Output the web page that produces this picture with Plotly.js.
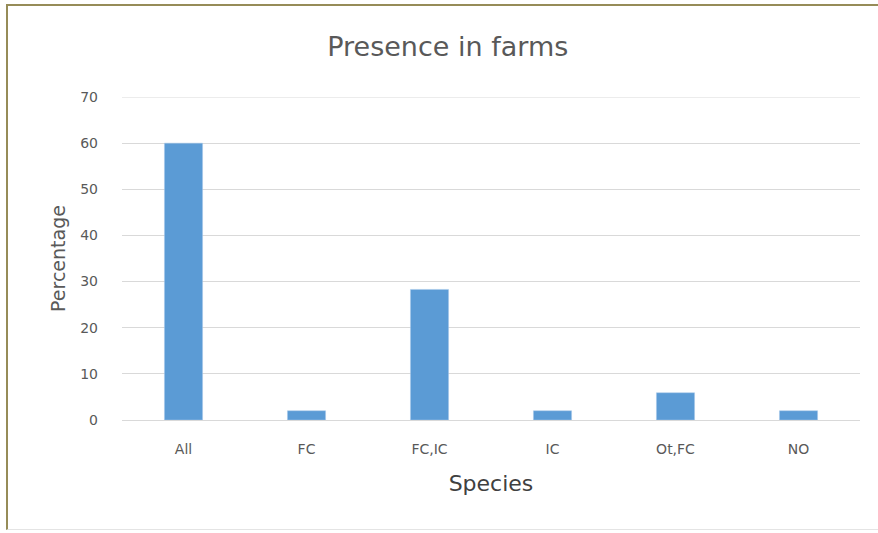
<!DOCTYPE html>
<html>
<head>
<meta charset="utf-8">
<script src="https://cdn.plot.ly/plotly-3.0.1.min.js"></script>
<style>
html,body{margin:0;padding:0;background:#fff;}
#chart{position:absolute;left:0;top:0;width:878px;height:533px;}
#frame{position:absolute;left:6px;top:4px;width:872px;height:526px;border-top:2px solid #968c58;border-left:2px solid #968c58;border-bottom:1px solid #e4e4e4;pointer-events:none;box-sizing:border-box;}
</style>
</head>
<body>
<div id="chart"></div>
<div id="frame"></div>
<script>
const categories = ["All", "FC", "FC,IC", "IC", "Ot,FC", "NO"];
const percentages = [60, 2, 28.3, 2, 5.9, 2];
const yTicks = [0, 10, 20, 30, 40, 50, 60, 70];
const yMax = 70;

const trace = {
  type: "bar",
  x: categories,
  y: percentages,
  marker: {color: "#5b9bd5", line: {color: "#a9c8ea", width: 0.5}},
  hoverinfo: "x+y"
};

const layout = {
  width: 878, height: 533,
  margin: {l: 122, r: 18, t: 97, b: 113},
  paper_bgcolor: "#ffffff", plot_bgcolor: "#ffffff",
  font: {family: "'DejaVu Sans', sans-serif", color: "#595959"},
  title: {text: "Presence in farms", x: 0.51, xanchor: "center", y: 0.912, yanchor: "middle",
          font: {size: 27, color: "#595959"}},
  bargap: 0.69,
  showlegend: false,
  xaxis: {
    type: "category",
    tickfont: {size: 14, color: "#595959"},
    showgrid: false, showline: false, ticks: "",
    ticklabelstandoff: 19,
    title: {text: "Species", font: {size: 22, color: "#404040"}, standoff: 19}
  },
  yaxis: {
    range: [0, yMax],
    tickvals: yTicks,
    tickfont: {size: 14, color: "#595959"},
    gridcolor: "#d9d9d9", gridwidth: 1,
    zeroline: true, zerolinecolor: "#d9d9d9", zerolinewidth: 1,
    showline: false, ticks: "",
    ticklabelstandoff: 23,
    title: {text: "Percentage", font: {size: 19, color: "#595959"}, standoff: 9}
  },
  shapes: [{type: "line", xref: "paper", yref: "y", x0: 0, x1: 1, y0: yMax, y1: yMax,
            line: {color: "#d9d9d9", width: 1}, layer: "below"}]
};

Plotly.newPlot("chart", [trace], layout, {displayModeBar: false, staticPlot: true});
</script>
</body>
</html>
